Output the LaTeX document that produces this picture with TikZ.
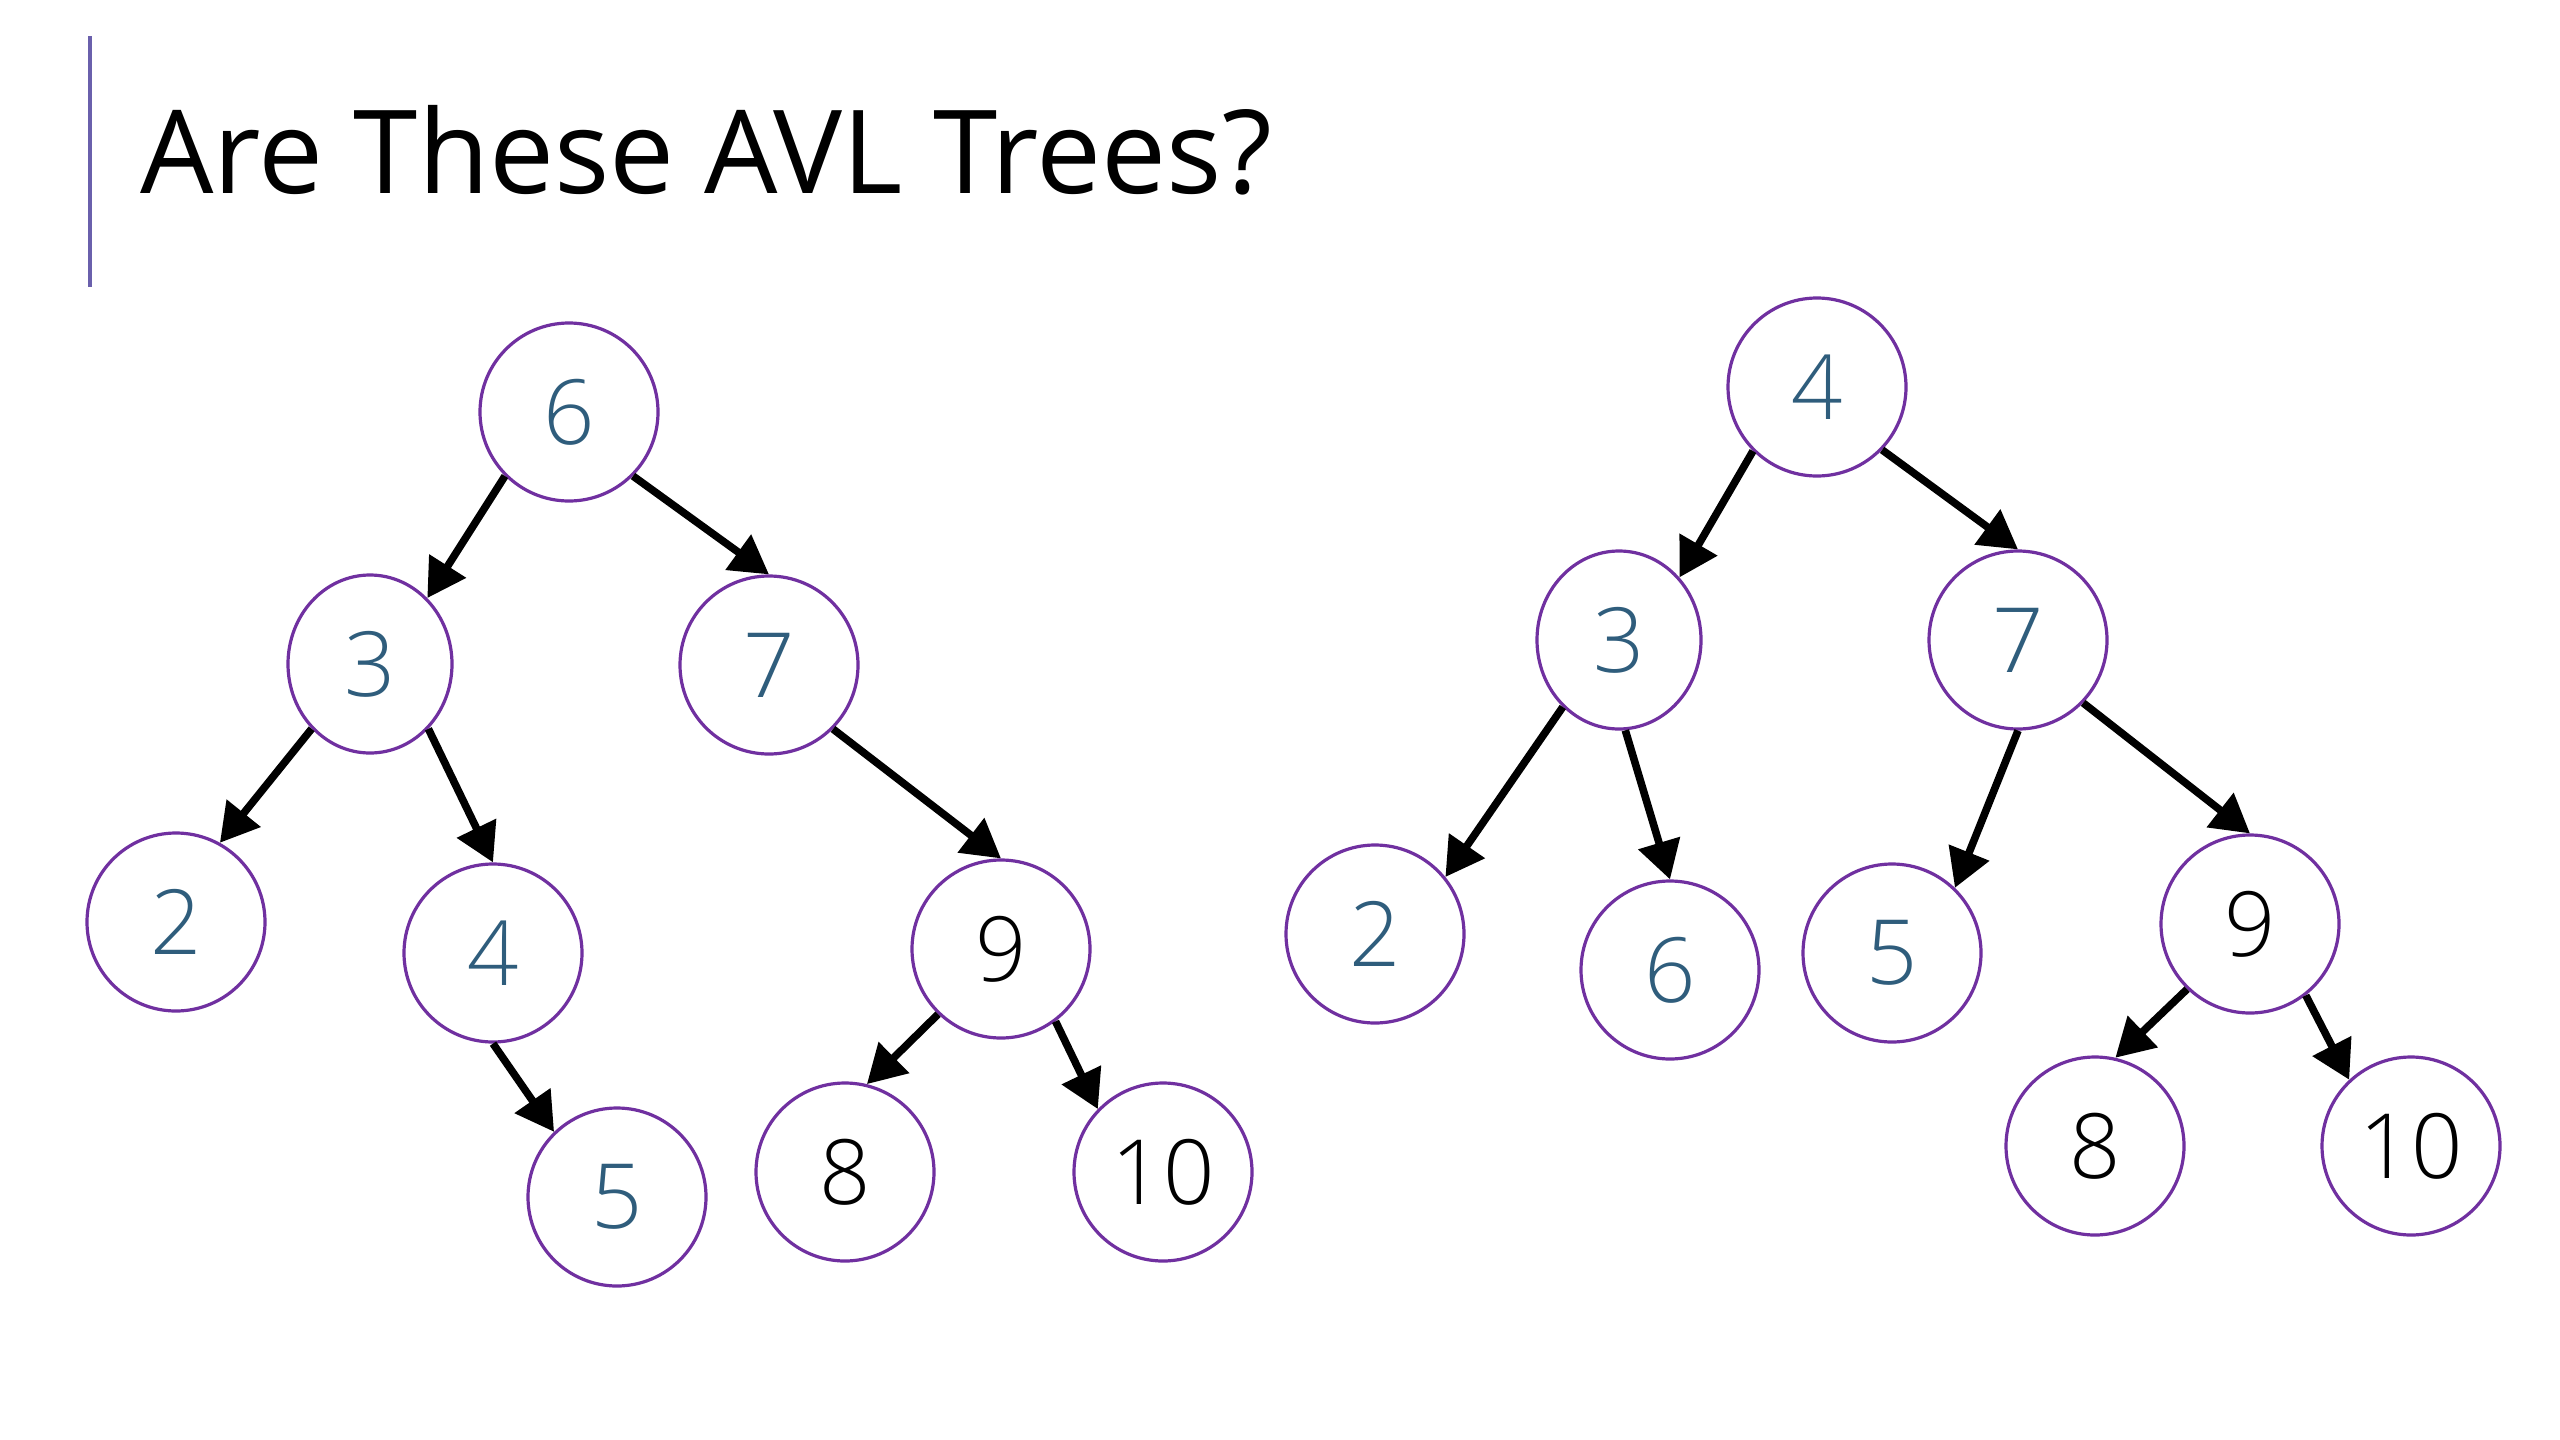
\documentclass[tikz,border=0pt]{standalone}
\usepackage{fontspec}
\setmainfont{Open Sans}
\newfontfamily\digitfont{Open Sans Light}
\usetikzlibrary{arrows.meta,shapes.geometric}
\definecolor{ringpurple}{HTML}{7030A0}
\definecolor{digitblue}{HTML}{2F5D7C}
\definecolor{barcol}{HTML}{6A60AC}
\tikzset{
  treenode/.style={circle, draw=ringpurple, line width=1.6pt, minimum size=89pt, inner sep=0pt,
    font=\digitfont\fontsize{45}{50}\selectfont, text=digitblue},
  narrownode/.style={ellipse, draw=ringpurple, line width=1.6pt, minimum width=82pt, minimum height=89pt, inner sep=0pt,
    font=\digitfont\fontsize{45}{50}\selectfont, text=digitblue},
  darkdigit/.style={text=black},
  arr/.style={line width=3.8pt, -{Triangle[length=19pt,width=21pt]}},
}
\begin{document}
\begin{tikzpicture}[x=0.5pt, y=-0.5pt]
\useasboundingbox[fill=white] (0,0) rectangle (2560,1440);
% title bar and title
\coordinate (bartop) at (90,36);
\coordinate (barbot) at (90,287);
\draw[barcol, line width=1.6pt] (bartop) -- (barbot);
\node[anchor=base west, inner sep=0pt, font=\fontsize{58}{64}\selectfont] (title) at (140,193) {Are These AVL Trees?};
% left tree
\node[treenode] (L6) at (569,412) {6};
\node[narrownode] (L3) at (370,664) {3};
\node[treenode] (L7) at (769,665) {7};
\node[treenode] (L2) at (176,922) {2};
\node[treenode] (L4) at (493,953) {4};
\node[treenode, darkdigit] (L9) at (1001,949) {9};
\node[treenode] (L5) at (617,1197) {5};
\node[treenode, darkdigit] (L8) at (845,1172) {8};
\node[treenode, darkdigit] (L10) at (1163,1172) {10};
\draw[arr] (L6.225) -- (L3.49);
\draw[arr] (L6.315) -- (L7.90);
\draw[arr] (L3.228) -- (L2.61);
\draw[arr] (L3.312) -- (L4.90);
\draw[arr] (L4.270) -- (L5.134);
\draw[arr] (L7.315) -- (L9.90);
\draw[arr] (L9.226) -- (L8.76);
\draw[arr] (L9.307) -- (L10.136);
% right tree
\node[treenode] (R4) at (1817,387) {4};
\node[narrownode] (R3) at (1619,640) {3};
\node[treenode] (R7) at (2018,640) {7};
\node[treenode] (R2) at (1375,934) {2};
\node[treenode] (R6) at (1670,970) {6};
\node[treenode] (R5) at (1892,953) {5};
\node[treenode, darkdigit] (R9) at (2250,924) {9};
\node[treenode, darkdigit] (R8) at (2095,1146) {8};
\node[treenode, darkdigit] (R10) at (2411,1146) {10};
\draw[arr] (R4.225) -- (R3.46);
\draw[arr] (R4.316) -- (R7.90);
\draw[arr] (R3.230) -- (R2.39);
\draw[arr] (R3.274) -- (R6.90);
\draw[arr] (R7.270) -- (R5.46);
\draw[arr] (R7.316) -- (R9.90);
\draw[arr] (R9.226) -- (R8.77);
\draw[arr] (R9.308) -- (R10.133);
\end{tikzpicture}
\end{document}
